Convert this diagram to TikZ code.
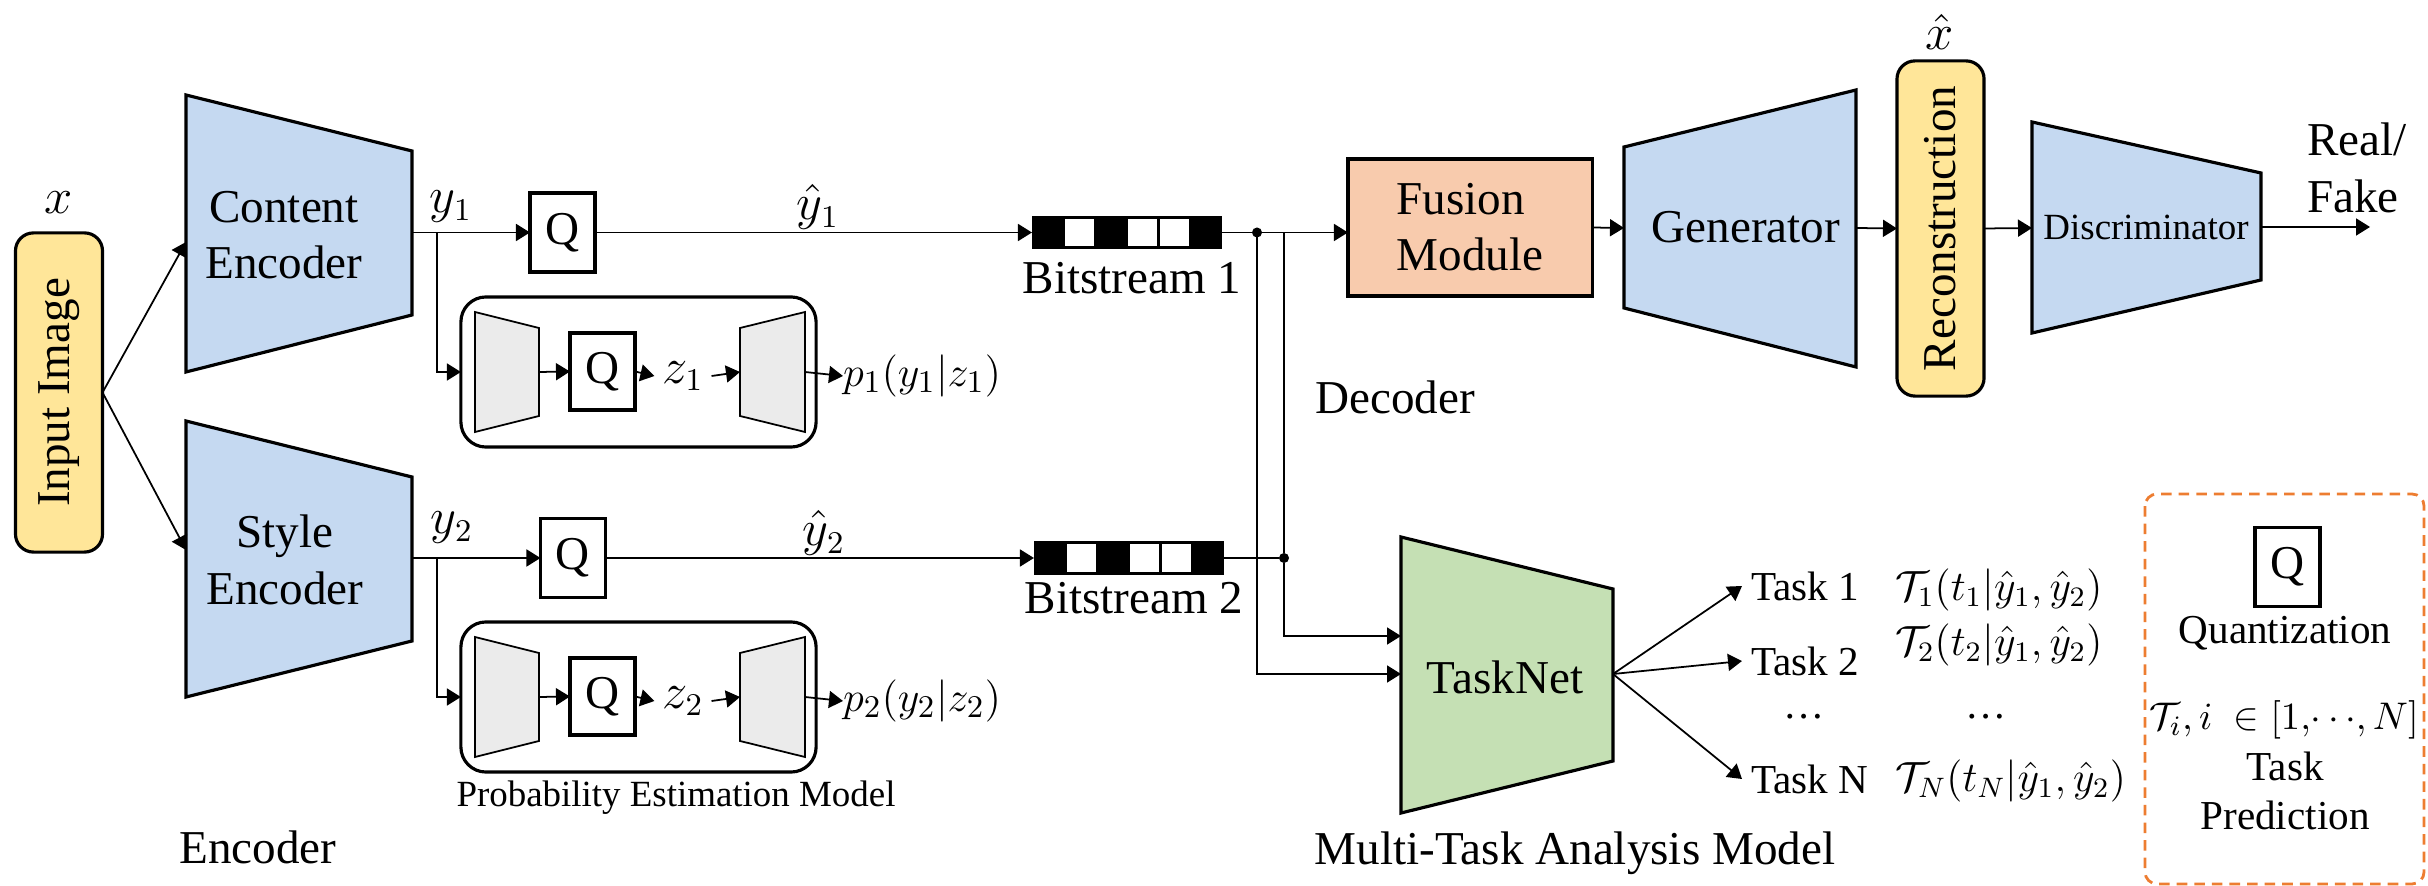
\documentclass[tikz,border=0pt]{standalone}
\usepackage{amsmath}
\usepackage{graphicx}
\usepackage{fontspec}
\setmainfont{Liberation Serif}
\usetikzlibrary{calc,arrows.meta}

\definecolor{encblue}{HTML}{C5D9F1}
\definecolor{imgyellow}{HTML}{FFE699}
\definecolor{fusepeach}{HTML}{F8CBAD}
\definecolor{taskgreen}{HTML}{C5E0B4}
\definecolor{hypgray}{HTML}{EBEBEB}
\definecolor{legorange}{HTML}{ED7D31}

\begin{document}
\begin{tikzpicture}[x=0.01cm, y=-0.01cm,
	every node/.style={font=\fontsize{13.4}{16}\selectfont, inner sep=0pt, outer sep=0pt},
	>={Triangle[length=0.14cm,width=0.17cm]},
	enc/.style={draw, line width=0.9pt, fill=encblue},
	hyp/.style={draw, line width=0.5pt, fill=hypgray},
	qbox/.style={draw, line width=0.9pt, minimum width=0.65cm, minimum height=0.79cm},
	pill/.style={draw, line width=0.9pt, fill=imgyellow, rounded corners=0.18cm, minimum width=0.87cm},
	pem/.style={draw, line width=0.9pt, rounded corners=0.25cm, minimum width=3.55cm, minimum height=1.5cm},
	bits/.style={fill=black, minimum width=1.9cm, minimum height=0.33cm},
	joint/.style={circle, fill=black, minimum size=0.1cm},
	small/.style={font=\fontsize{10.5}{12}\selectfont},
	tsk/.style={font=\fontsize{11.7}{14}\selectfont},
	wire/.style={line width=0.5pt}]
	
	\useasboundingbox (0,0) rectangle (2428,886);
	
	%---------------------------------------------
	% encoder side
	
	\node[pill, minimum height=3.19cm] (inp) at (59,392.5) {\rotatebox{90}{Input Image}};
	\node (xin) at (59,203) {$x$};
	
	\draw[enc] (186,95) -- (412,151) -- (412,315) -- (186,372) -- cycle;
	\node[align=center] (cenc) at (284,235) {Content\\Encoder};
	\draw[enc] (186,421) -- (412,477) -- (412,641) -- (186,697) -- cycle;
	\node[align=center] (senc) at (285,560) {Style\\Encoder};
	
	\coordinate (cenc_in) at (186,242);
	\coordinate (cenc_out) at (412,232.5);
	\coordinate (senc_in) at (186,550);
	\coordinate (senc_out) at (412,558);
	\coordinate (br1) at (437,232.5);
	\coordinate (br2) at (437,558);
	
	\draw[wire,->] (inp.east) -- (cenc_in);
	\draw[wire,->] (inp.east) -- (senc_in);
	
	\node[qbox] (q1) at (562.5,232.5) {Q};
	\node[qbox] (q2) at (573,558) {Q};
	\node (y1) at (451,207) {$y_1$};
	\node (y2) at (452,528) {$y_2$};
	\node (yh1) at (818,207) {$\hat{y}_1$};
	\node (yh2) at (824,533) {$\hat{y}_2$};
	
	\node[bits] (bs1) at (1127,232.5) {};
	\node[bits] (bs2) at (1129,558) {};
	\foreach \s in {bs1,bs2} {
		\foreach \c in {1,3,4} {
			\fill[white] ($(\s.north west)+(\c*31.67+1.5,3)$) rectangle ++(28.5,27.5);
		}
	}
	\node (bl1) at (1132,278) {Bitstream 1};
	\node (bl2) at (1134,598) {Bitstream 2};
	
	\draw[wire,->] (cenc_out) -- (q1.west);
	\draw[wire,->] (senc_out) -- (q2.west);
	\draw[wire,->] (q1.east) -- (bs1.west);
	\draw[wire,->] (q2.east) -- (bs2.west);
	
	%---------------------------------------------
	% probability estimation model
	
	\foreach \k/\dy in {1/0,2/325} {
		\node[pem] (pem\k) at (638.5,372+\dy) {};
		\draw[hyp] (475,312+\dy) -- (539,328+\dy) -- (539,416+\dy) -- (475,432+\dy) -- cycle;
		\coordinate (ha_out\k) at (539,372+\dy);
		\node[qbox, minimum height=0.77cm] (hq\k) at (602.5,371.5+\dy) {Q};
		\node[inner xsep=0.08cm] (z\k) at (683,376+\dy) {$z_\k$};
		\draw[hyp] (740,328+\dy) -- (805,312+\dy) -- (805,432+\dy) -- (740,416+\dy) -- cycle;
		\coordinate (hs_in\k) at (740,372+\dy);
		\coordinate (hs_out\k) at (805,372+\dy);
		\node[anchor=west, font=\fontsize{12.5}{15}\selectfont] (p\k) at (843,376+\dy) {$p_\k(y_\k|z_\k)$};
		
		\draw[wire,->] (br\k) |- (pem\k.west);
		\draw[wire,->] (ha_out\k) -- (hq\k.west);
		\draw[wire,->] (hq\k.east) -- (z\k.west);
		\draw[wire,->] (z\k.east) -- (hs_in\k);
		\draw[wire,->] (hs_out\k) -- (p\k.west);
	}
	
	\node[small] (peml) at (676,798) {Probability Estimation Model};
	\node (encl) at (258,847) {Encoder};
	
	%---------------------------------------------
	% decoder
	
	\node[joint] (j1) at (1257,232.5) {};
	\node[joint] (j2) at (1284,558) {};
	\node[draw, line width=0.9pt, fill=fusepeach, minimum width=2.44cm, minimum height=1.37cm, align=left] (fus) at (1470,227.5) {Fusion\\Module};
	
	\draw[wire] (bs1.east) -- (j1);
	\draw[wire,->] (j1) -- (j1 -| fus.west);
	\draw[wire] (bs2.east) -- (j2);
	\draw[wire] (j2) -- (j2 |- j1);
	
	\node (dec) at (1395,397) {Decoder};
	
	\draw[enc] (1624,147) -- (1856,90) -- (1856,367) -- (1624,308) -- cycle;
	\node (gen) at (1746,227) {Generator};
	\coordinate (gen_in) at (1624,228);
	\coordinate (gen_out) at (1856,228);
	
	\node[pill, minimum height=3.35cm] (rec) at (1940.5,228.5) {\rotatebox{90}{Reconstruction}};
	\node (xh) at (1940,32) {$\hat{x}$};
	
	\draw[enc] (2032,122) -- (2261,173) -- (2261,280) -- (2032,333) -- cycle;
	\node[small] (dis) at (2146,227) {Discriminator};
	\coordinate (dis_in) at (2032,228);
	\coordinate (dis_out) at (2261,227);
	\coordinate (rf_end) at (2370,227);
	\node[anchor=west, align=left] (rf) at (2307,168) {Real/\\Fake};
	
	\draw[wire,->] (fus.east) -- (gen_in);
	\draw[wire,->] (gen_out) -- (rec.west);
	\draw[wire,->] (rec.east) -- (dis_in);
	\draw[wire,->] (dis_out) -- (rf_end);
	
	%---------------------------------------------
	% multi-task analysis
	
	\draw[fill=taskgreen, line width=0.9pt] (1401,537) -- (1613,589) -- (1613,761) -- (1401,813) -- cycle;
	\node (tn) at (1505,677) {TaskNet};
	\coordinate (tn_in1) at (1401,636);
	\coordinate (tn_in2) at (1401,674);
	\coordinate (tn_out) at (1613,674);
	
	\draw[wire,->] (j2) |- (tn_in1);
	\draw[wire,->] (j1) |- (tn_in2);
	
	\node[tsk, anchor=west, inner xsep=0.09cm] (t1) at (1742,586) {Task 1};
	\node[tsk, anchor=west, inner xsep=0.09cm] (t2) at (1742,661) {Task 2};
	\node[tsk] (tdots) at (1804,717) {\dots};
	\node[tsk, anchor=west, inner xsep=0.09cm] (tN) at (1742,779) {Task N};
	
	\draw[wire,->] (tn_out) -- (t1.west);
	\draw[wire,->] (tn_out) -- (t2.west);
	\draw[wire,->] (tn_out) -- (tN.west);
	
	\node[tsk, anchor=west] (f1) at (1895,590) {$\mathcal{T}_1(t_1|\hat{y}_1,\hat{y}_2)$};
	\node[tsk, anchor=west] (f2) at (1895,645) {$\mathcal{T}_2(t_2|\hat{y}_1,\hat{y}_2)$};
	\node[tsk] (fdots) at (1986,717) {\dots};
	\node[tsk, anchor=west] (fN) at (1895,781) {$\mathcal{T}_N(t_N|\hat{y}_1,\hat{y}_2)$};
	
	\node (mtal) at (1575,853) {Multi-Task Analysis Model};
	
	%---------------------------------------------
	% legend
	
	\draw[legorange, line width=0.8pt, rounded corners=0.12cm, dash pattern=on 3pt off 2pt] (2145,494) rectangle (2424,884);
	\node[qbox] (lq) at (2287.5,567) {Q};
	\node[tsk] (lqt) at (2285,633) {Quantization};
	\node[font=\fontsize{10.8}{13}\selectfont] (lti) at (2284,720) {$\mathcal{T}_i, i\;\in[1,\!\cdots\!,N]$};
	\node[tsk, align=center] (ltp) at (2285,791) {Task\\Prediction};
	
	%---------------------------------------------
	
\end{tikzpicture}
\end{document}
